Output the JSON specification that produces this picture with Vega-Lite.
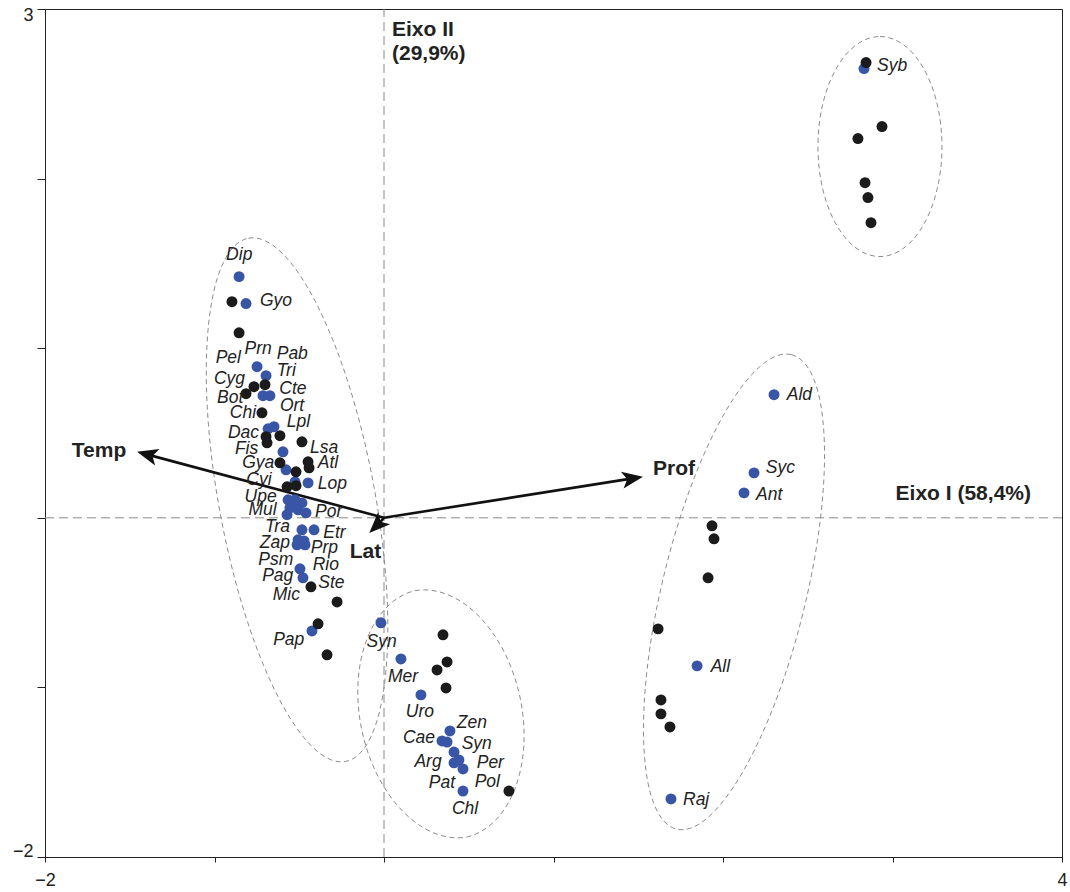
{
  "$schema": "https://vega.github.io/schema/vega-lite/v6.json",
  "width": 1017,
  "height": 848,
  "autosize": "none",
  "padding": {"left": 45, "top": 9, "right": 8, "bottom": 35},
  "background": "white",
  "config": {
    "view": {"stroke": "#222", "strokeWidth": 1},
    "font": "Liberation Sans"
  },
  "datasets": {
    "eixos": [
      {"x": -2, "y": 0, "x2": 4, "y2": 0},
      {"x": 0, "y": -2, "x2": 0, "y2": 3}
    ],
    "elipses": [
      {"grupo": "I", "x": -0.513, "y": 0.106},
      {"grupo": "II", "x": 0.336, "y": -1.156},
      {"grupo": "III", "x": 2.065, "y": -0.437},
      {"grupo": "IV", "x": 2.926, "y": 2.189}
    ],
    "vetores": [
      {"var": "Temp", "x": 0, "y": 0, "x2": -1.389, "y2": 0.371},
      {"var": "Prof", "x": 0, "y": 0, "x2": 1.458, "y2": 0.231},
      {"var": "Lat", "x": 0, "y": 0, "x2": -0.034, "y2": -0.037}
    ],
    "pontas": [
      {"var": "Temp", "x": -1.457, "y": 0.389},
      {"var": "Prof", "x": 1.528, "y": 0.242},
      {"var": "Lat", "x": -0.087, "y": -0.090}
    ],
    "pontos": [
      {"tipo": "espécie", "x": 2.832, "y": 2.649},
      {"tipo": "espécie", "x": 2.301, "y": 0.726},
      {"tipo": "espécie", "x": 2.183, "y": 0.265},
      {"tipo": "espécie", "x": 2.124, "y": 0.147},
      {"tipo": "espécie", "x": 1.847, "y": -0.873},
      {"tipo": "espécie", "x": 1.693, "y": -1.658},
      {"tipo": "espécie", "x": -0.018, "y": -0.619},
      {"tipo": "espécie", "x": 0.100, "y": -0.832},
      {"tipo": "espécie", "x": 0.218, "y": -1.044},
      {"tipo": "espécie", "x": 0.389, "y": -1.257},
      {"tipo": "espécie", "x": 0.342, "y": -1.316},
      {"tipo": "espécie", "x": 0.372, "y": -1.322},
      {"tipo": "espécie", "x": 0.413, "y": -1.381},
      {"tipo": "espécie", "x": 0.413, "y": -1.445},
      {"tipo": "espécie", "x": 0.442, "y": -1.428},
      {"tipo": "espécie", "x": 0.466, "y": -1.481},
      {"tipo": "espécie", "x": 0.466, "y": -1.611},
      {"tipo": "espécie", "x": -0.855, "y": 1.422},
      {"tipo": "espécie", "x": -0.814, "y": 1.263},
      {"tipo": "espécie", "x": -0.749, "y": 0.891},
      {"tipo": "espécie", "x": -0.696, "y": 0.838},
      {"tipo": "espécie", "x": -0.714, "y": 0.720},
      {"tipo": "espécie", "x": -0.673, "y": 0.720},
      {"tipo": "espécie", "x": -0.649, "y": 0.537},
      {"tipo": "espécie", "x": -0.684, "y": 0.525},
      {"tipo": "espécie", "x": -0.596, "y": 0.389},
      {"tipo": "espécie", "x": -0.578, "y": 0.283},
      {"tipo": "espécie", "x": -0.448, "y": 0.206},
      {"tipo": "espécie", "x": -0.525, "y": 0.212},
      {"tipo": "espécie", "x": -0.566, "y": 0.106},
      {"tipo": "espécie", "x": -0.525, "y": 0.106},
      {"tipo": "espécie", "x": -0.484, "y": 0.088},
      {"tipo": "espécie", "x": -0.555, "y": 0.059},
      {"tipo": "espécie", "x": -0.507, "y": 0.047},
      {"tipo": "espécie", "x": -0.460, "y": 0.029},
      {"tipo": "espécie", "x": -0.572, "y": 0.018},
      {"tipo": "espécie", "x": -0.525, "y": 0.065},
      {"tipo": "espécie", "x": -0.484, "y": -0.071},
      {"tipo": "espécie", "x": -0.413, "y": -0.071},
      {"tipo": "espécie", "x": -0.507, "y": -0.130},
      {"tipo": "espécie", "x": -0.472, "y": -0.136},
      {"tipo": "espécie", "x": -0.513, "y": -0.159},
      {"tipo": "espécie", "x": -0.466, "y": -0.159},
      {"tipo": "espécie", "x": -0.496, "y": -0.301},
      {"tipo": "espécie", "x": -0.478, "y": -0.354},
      {"tipo": "espécie", "x": -0.425, "y": -0.667},
      {"tipo": "amostra", "x": 2.844, "y": 2.684},
      {"tipo": "amostra", "x": 2.938, "y": 2.307},
      {"tipo": "amostra", "x": 2.796, "y": 2.236},
      {"tipo": "amostra", "x": 2.838, "y": 1.976},
      {"tipo": "amostra", "x": 2.855, "y": 1.888},
      {"tipo": "amostra", "x": 2.873, "y": 1.740},
      {"tipo": "amostra", "x": 1.935, "y": -0.047},
      {"tipo": "amostra", "x": 1.947, "y": -0.124},
      {"tipo": "amostra", "x": 1.912, "y": -0.354},
      {"tipo": "amostra", "x": 1.617, "y": -0.655},
      {"tipo": "amostra", "x": 1.634, "y": -1.074},
      {"tipo": "amostra", "x": 1.634, "y": -1.156},
      {"tipo": "amostra", "x": 1.687, "y": -1.233},
      {"tipo": "amostra", "x": 0.348, "y": -0.690},
      {"tipo": "amostra", "x": 0.372, "y": -0.850},
      {"tipo": "amostra", "x": 0.313, "y": -0.897},
      {"tipo": "amostra", "x": 0.366, "y": -1.003},
      {"tipo": "amostra", "x": 0.737, "y": -1.611},
      {"tipo": "amostra", "x": -0.897, "y": 1.274},
      {"tipo": "amostra", "x": -0.855, "y": 1.091},
      {"tipo": "amostra", "x": -0.767, "y": 0.773},
      {"tipo": "amostra", "x": -0.702, "y": 0.785},
      {"tipo": "amostra", "x": -0.814, "y": 0.732},
      {"tipo": "amostra", "x": -0.720, "y": 0.619},
      {"tipo": "amostra", "x": -0.696, "y": 0.478},
      {"tipo": "amostra", "x": -0.614, "y": 0.484},
      {"tipo": "amostra", "x": -0.690, "y": 0.442},
      {"tipo": "amostra", "x": -0.484, "y": 0.448},
      {"tipo": "amostra", "x": -0.614, "y": 0.324},
      {"tipo": "amostra", "x": -0.448, "y": 0.330},
      {"tipo": "amostra", "x": -0.442, "y": 0.295},
      {"tipo": "amostra", "x": -0.519, "y": 0.271},
      {"tipo": "amostra", "x": -0.572, "y": 0.183},
      {"tipo": "amostra", "x": -0.519, "y": 0.189},
      {"tipo": "amostra", "x": -0.431, "y": -0.407},
      {"tipo": "amostra", "x": -0.277, "y": -0.496},
      {"tipo": "amostra", "x": -0.389, "y": -0.625},
      {"tipo": "amostra", "x": -0.336, "y": -0.808}
    ],
    "rotulos_esq": [
      {"rotulo": "Gyo", "x": -0.732, "y": 1.280},
      {"rotulo": "Pab", "x": -0.633, "y": 0.968},
      {"rotulo": "Tri", "x": -0.633, "y": 0.863},
      {"rotulo": "Cte", "x": -0.618, "y": 0.759},
      {"rotulo": "Ort", "x": -0.614, "y": 0.661},
      {"rotulo": "Lpl", "x": -0.574, "y": 0.562},
      {"rotulo": "Lsa", "x": -0.437, "y": 0.411},
      {"rotulo": "Atl", "x": -0.391, "y": 0.323},
      {"rotulo": "Lop", "x": -0.391, "y": 0.201},
      {"rotulo": "Por", "x": -0.407, "y": 0.037},
      {"rotulo": "Etr", "x": -0.358, "y": -0.090},
      {"rotulo": "Prp", "x": -0.432, "y": -0.179},
      {"rotulo": "Rio", "x": -0.421, "y": -0.277},
      {"rotulo": "Ste", "x": -0.388, "y": -0.385},
      {"rotulo": "Zen", "x": 0.429, "y": -1.208},
      {"rotulo": "Syn", "x": 0.458, "y": -1.333},
      {"rotulo": "Per", "x": 0.547, "y": -1.444},
      {"rotulo": "Ald", "x": 2.376, "y": 0.726},
      {"rotulo": "Syc", "x": 2.252, "y": 0.295},
      {"rotulo": "Ant", "x": 2.195, "y": 0.136},
      {"rotulo": "All", "x": 1.927, "y": -0.879},
      {"rotulo": "Raj", "x": 1.764, "y": -1.664},
      {"rotulo": "Syb", "x": 2.909, "y": 2.661}
    ],
    "rotulos_dir": [
      {"rotulo": "Pel", "x": -0.844, "y": 0.942},
      {"rotulo": "Cyg", "x": -0.820, "y": 0.820},
      {"rotulo": "Bot", "x": -0.830, "y": 0.706},
      {"rotulo": "Chi", "x": -0.755, "y": 0.618},
      {"rotulo": "Dac", "x": -0.737, "y": 0.500},
      {"rotulo": "Fis", "x": -0.742, "y": 0.405},
      {"rotulo": "Gya", "x": -0.647, "y": 0.323},
      {"rotulo": "Cyi", "x": -0.663, "y": 0.224},
      {"rotulo": "Upe", "x": -0.633, "y": 0.120},
      {"rotulo": "Mul", "x": -0.633, "y": 0.047},
      {"rotulo": "Tra", "x": -0.555, "y": -0.055},
      {"rotulo": "Zap", "x": -0.555, "y": -0.149},
      {"rotulo": "Psm", "x": -0.535, "y": -0.248},
      {"rotulo": "Pag", "x": -0.535, "y": -0.346},
      {"rotulo": "Mic", "x": -0.496, "y": -0.454},
      {"rotulo": "Pap", "x": -0.470, "y": -0.720},
      {"rotulo": "Cae", "x": 0.301, "y": -1.300},
      {"rotulo": "Arg", "x": 0.340, "y": -1.438},
      {"rotulo": "Pat", "x": 0.419, "y": -1.562},
      {"rotulo": "Pol", "x": 0.684, "y": -1.556}
    ],
    "rotulos_centro": [
      {"rotulo": "Dip", "x": -0.854, "y": 1.552},
      {"rotulo": "Prn", "x": -0.742, "y": 0.995},
      {"rotulo": "Syn", "x": -0.014, "y": -0.730},
      {"rotulo": "Mer", "x": 0.112, "y": -0.936},
      {"rotulo": "Uro", "x": 0.212, "y": -1.146},
      {"rotulo": "Chl", "x": 0.478, "y": -1.719}
    ],
    "variaveis": [
      {"rotulo": "Temp", "x": -1.681, "y": 0.395},
      {"rotulo": "Prof", "x": 1.711, "y": 0.289},
      {"rotulo": "Lat", "x": -0.109, "y": -0.201}
    ],
    "eixo2": [
      {"rotulo": "Eixo II", "x": 0.047, "y": 2.879},
      {"rotulo": "(29,9%)", "x": 0.047, "y": 2.732}
    ],
    "eixo1": [
      {"rotulo": "Eixo I (58,4%)", "x": 3.817, "y": 0.142}
    ]
  },
  "encoding": {
    "x": {
      "field": "x",
      "type": "quantitative",
      "scale": {"domain": [-2, 4], "nice": false, "zero": false},
      "axis": {
        "values": [-2, -1, 0, 1, 2, 3, 4],
        "labelExpr": "datum.value == -2 || datum.value == 4 ? datum.label : ''",
        "title": null,
        "grid": false,
        "tickSize": 5,
        "labelPadding": 9,
        "labelFontSize": 18,
        "labelFont": "Liberation Sans",
        "labelColor": "#222",
        "domainColor": "#222",
        "tickColor": "#222",
        "labelFlush": false,
        "labelOverlap": false
      }
    },
    "y": {
      "field": "y",
      "type": "quantitative",
      "scale": {"domain": [-2, 3], "nice": false, "zero": false},
      "axis": {
        "values": [-2, -1, 0, 1, 2, 3],
        "labelExpr": "datum.value == -2 || datum.value == 3 ? datum.label : ''",
        "title": null,
        "grid": false,
        "tickSize": 8,
        "labelPadding": 4,
        "labelFontSize": 18,
        "labelFont": "Liberation Sans",
        "labelColor": "#222",
        "domainColor": "#222",
        "tickColor": "#222",
        "labelFlush": true,
        "labelFlushOffset": 3,
        "labelOverlap": false
      }
    }
  },
  "layer": [
    {
      "data": {"name": "eixos"},
      "mark": {"type": "rule", "color": "#8a8a8a", "strokeWidth": 1, "strokeDash": [9, 5]},
      "encoding": {"x2": {"field": "x2"}, "y2": {"field": "y2"}}
    },
    {
      "data": {"name": "elipses"},
      "mark": {"type": "point", "filled": false, "size": 4, "color": "#8c8c8c", "opacity": 1, "strokeWidth": 1, "strokeDash": [5, 3.5]},
      "encoding": {
        "shape": {
          "field": "grupo",
          "type": "nominal",
          "legend": null,
          "scale": {
            "domain": ["I", "II", "III", "IV"],
            "range": [
              "M-48.5,-261.6 A266,78 79.5 0 1 48.5,261.6 A266,78 79.5 0 1 -48.5,-261.6 Z",
              "M-26.2,-123.2 A126,83 78 0 1 26.2,123.2 A126,83 78 0 1 -26.2,-123.2 Z",
              "M57.4,-237.2 A244,72 103.6 0 1 -57.4,237.2 A244,72 103.6 0 1 57.4,-237.2 Z",
              "M0,-110 A110,62 90 0 1 0,110 A110,62 90 0 1 0,-110 Z"
            ]
          }
        }
      }
    },
    {
      "data": {"name": "vetores"},
      "mark": {"type": "rule", "color": "#111", "strokeWidth": 2.6},
      "encoding": {"x2": {"field": "x2"}, "y2": {"field": "y2"}}
    },
    {
      "data": {"name": "pontas"},
      "transform": [{"filter": "datum.var == 'Temp'"}],
      "mark": {"type": "point", "filled": true, "size": 4, "color": "#111", "opacity": 1, "angle": 195, "shape": "M0,0 L-21,-8.5 L-16,0 L-21,8.5 Z"}
    },
    {
      "data": {"name": "pontas"},
      "transform": [{"filter": "datum.var == 'Prof'"}],
      "mark": {"type": "point", "filled": true, "size": 4, "color": "#111", "opacity": 1, "angle": 351, "shape": "M0,0 L-21,-8.5 L-16,0 L-21,8.5 Z"}
    },
    {
      "data": {"name": "pontas"},
      "transform": [{"filter": "datum.var == 'Lat'"}],
      "mark": {"type": "point", "filled": true, "size": 4, "color": "#111", "opacity": 1, "angle": 135, "shape": "M0,0 L-21,-8.5 L-16,0 L-21,8.5 Z"}
    },
    {
      "data": {"name": "pontos"},
      "mark": {"type": "point", "filled": true, "size": 120, "opacity": 1, "shape": "circle"},
      "encoding": {
        "color": {
          "field": "tipo",
          "type": "nominal",
          "legend": null,
          "scale": {"domain": ["espécie", "amostra"], "range": ["#3955a6", "#1b1b1b"]}
        }
      }
    },
    {
      "data": {"name": "rotulos_esq"},
      "mark": {"type": "text", "align": "left", "baseline": "middle", "fontStyle": "italic", "fontSize": 17.5, "font": "Liberation Sans", "color": "#222"},
      "encoding": {"text": {"field": "rotulo"}}
    },
    {
      "data": {"name": "rotulos_dir"},
      "mark": {"type": "text", "align": "right", "baseline": "middle", "fontStyle": "italic", "fontSize": 17.5, "font": "Liberation Sans", "color": "#222"},
      "encoding": {"text": {"field": "rotulo"}}
    },
    {
      "data": {"name": "rotulos_centro"},
      "mark": {"type": "text", "align": "center", "baseline": "middle", "fontStyle": "italic", "fontSize": 17.5, "font": "Liberation Sans", "color": "#222"},
      "encoding": {"text": {"field": "rotulo"}}
    },
    {
      "data": {"name": "variaveis"},
      "mark": {"type": "text", "align": "center", "baseline": "middle", "fontWeight": "bold", "fontSize": 21, "font": "Liberation Sans", "color": "#222"},
      "encoding": {"text": {"field": "rotulo"}}
    },
    {
      "data": {"name": "eixo2"},
      "mark": {"type": "text", "align": "left", "baseline": "middle", "fontWeight": "bold", "fontSize": 21, "font": "Liberation Sans", "color": "#222"},
      "encoding": {"text": {"field": "rotulo"}}
    },
    {
      "data": {"name": "eixo1"},
      "mark": {"type": "text", "align": "right", "baseline": "middle", "fontWeight": "bold", "fontSize": 21, "font": "Liberation Sans", "color": "#222"},
      "encoding": {"text": {"field": "rotulo"}}
    }
  ]
}
